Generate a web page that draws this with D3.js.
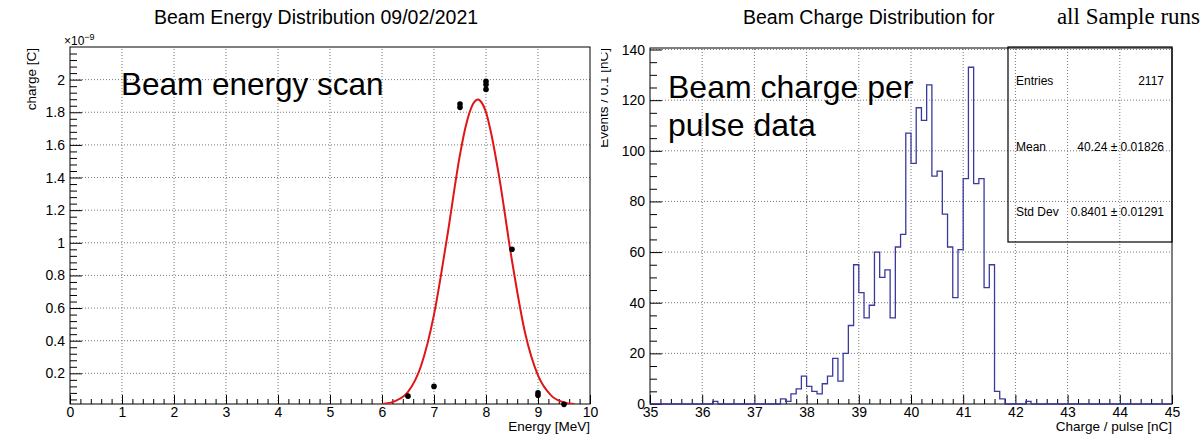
<!DOCTYPE html>
<html>
<script src="https://d3js.org/d3.v7.min.js"></script>

<head>
    <style>
        body {
            margin: 0;
            background-color: #ffffff;
            font-family: "Liberation Sans", Arial, Helvetica, sans-serif;
        }

        svg {
            display: block;
        }
    </style>
</head>

<body>
</body>
<script>
    // ---- left plot: beam energy scan (charge in units of 1e-9 C) ----
    const scanEnergy = [6.5, 7.0, 7.5, 7.5, 8.0, 8.0, 8.0, 8.5, 9.0, 9.0, 9.5];
    const scanCharge = [0.06, 0.12, 1.83, 1.85, 1.94, 1.97, 1.99, 0.96, 0.065, 0.08, 0.01];

    // gaussian fit curve
    const fitEnergy = [6.0, 6.25, 6.5, 6.75, 7.0, 7.25, 7.5, 7.6, 7.75, 7.85, 7.9, 8.0, 8.1, 8.25, 8.5, 8.75, 9.0, 9.25, 9.5, 9.7];
    const fitCharge = [0.012, 0.03, 0.086, 0.245, 0.56, 1.03, 1.54, 1.70, 1.85, 1.878, 1.866, 1.80, 1.67, 1.41, 0.89, 0.45, 0.187, 0.065, 0.022, 0.012];

    const energyTicks = [0, 1, 2, 3, 4, 5, 6, 7, 8, 9, 10];
    const chargeTicks = [0.2, 0.4, 0.6, 0.8, 1, 1.2, 1.4, 1.6, 1.8, 2];

    // ---- right plot: beam charge per pulse, 0.1 nC bins (empty bins left out) ----
    const binLow = [36.2, 37.5, 37.6, 37.7, 37.8, 37.9, 38.0, 38.1, 38.2, 38.3, 38.4, 38.5, 38.6, 38.7, 38.8, 38.9,
        39.0, 39.1, 39.2, 39.3, 39.4, 39.5, 39.6, 39.7, 39.8, 39.9, 40.0, 40.1, 40.2, 40.3, 40.4, 40.5, 40.6, 40.7,
        40.8, 40.9, 41.0, 41.1, 41.2, 41.3, 41.4, 41.5, 41.6, 41.7, 42.2];
    const binCounts = [1, 2, 1, 4, 6, 11, 7, 5, 4, 8, 11, 18, 9, 20, 31, 55,
        44, 34, 39, 60, 50, 53, 34, 62, 67, 107, 95, 117, 112, 126, 90, 92, 75, 62,
        42, 61, 89, 133, 87, 89, 46, 55, 5, 2, 1];

    const pulseTicks = [35, 36, 37, 38, 39, 40, 41, 42, 43, 44, 45];
    const countTicks = [0, 20, 40, 60, 80, 100, 120, 140];

    const statNames = ["Entries", "Mean", "Std Dev"];
    const statValues = ["2117", "40.24 \u00b1 0.01826", "0.8401 \u00b1 0.01291"];

    const width = 1204,
        height = 434;
    const font = "'Liberation Sans', Arial, sans-serif";
    const svg = d3.select("body").append("svg").attr("width", width).attr("height", height);

    function minors(ticks, n) {
        // tick marks between the labelled ones
        const out = [];
        for (let i = 0; i < ticks.length - 1; i++) {
            const step = (ticks[i + 1] - ticks[i]) / n;
            for (let k = 1; k < n; k++) out.push(ticks[i] + k * step);
        }
        return out;
    }

    function drawFrame(g, x, y, xTicks, yTicks, xMinor, yMinor, yFmt) {
        const [xl, xr] = x.range();
        const [yb, yt] = y.range();

        // dotted grid
        g.append("g").selectAll("line")
            .data(xTicks.filter(d => x(d) > xl + 1 && x(d) < xr - 1))
            .join("line")
            .attr("x1", d => x(d)).attr("x2", d => x(d))
            .attr("y1", yb).attr("y2", yt)
            .attr("stroke", "#777").attr("stroke-dasharray", "1,2");
        g.append("g").selectAll("line")
            .data(yTicks.filter(d => y(d) < yb - 1))
            .join("line")
            .attr("x1", xl).attr("x2", xr)
            .attr("y1", d => y(d)).attr("y2", d => y(d))
            .attr("stroke", "#777").attr("stroke-dasharray", "1,2");

        const xa = g.append("g")
            .attr("transform", `translate(0,${yb})`)
            .call(d3.axisBottom(x).tickValues(xTicks).tickSizeInner(-9).tickSizeOuter(0).tickPadding(3));
        xa.attr("font-size", 14).attr("font-family", font);
        xa.select(".domain").remove();

        g.append("g")
            .attr("transform", `translate(0,${yb})`)
            .call(d3.axisBottom(x).tickValues(minors(xTicks, xMinor)).tickSizeInner(-5).tickSizeOuter(0).tickFormat(""))
            .select(".domain").remove();

        const ya = g.append("g")
            .attr("transform", `translate(${xl},0)`)
            .call(d3.axisLeft(y).tickValues(yTicks).tickSizeInner(-12).tickSizeOuter(0).tickPadding(5).tickFormat(yFmt));
        ya.attr("font-size", 14).attr("font-family", font);
        ya.select(".domain").remove();

        const ym = minors(yTicks, yMinor);
        // extend minor ticks above the last label up to the frame
        const st = (yTicks[1] - yTicks[0]) / yMinor;
        for (let v = yTicks[yTicks.length - 1] + st; y(v) > yt; v += st) ym.push(v);
        for (let v = yTicks[0] - st; y(v) < yb; v -= st) ym.push(v);
        g.append("g")
            .attr("transform", `translate(${xl},0)`)
            .call(d3.axisLeft(y).tickValues(ym).tickSizeInner(-7).tickSizeOuter(0).tickFormat(""))
            .select(".domain").remove();

        g.append("rect")
            .attr("x", xl).attr("y", yt)
            .attr("width", xr - xl).attr("height", yb - yt)
            .attr("fill", "none").attr("stroke", "black").attr("stroke-width", 1);
    }

    // ================= left panel =================
    const left = svg.append("g");
    const xE = d3.scaleLinear().domain([0, 10]).range([70, 590]);
    const yQ = d3.scaleLinear().domain([0.012, 2.2]).range([404, 47]);

    drawFrame(left, xE, yQ, energyTicks, chargeTicks, 5, 5, d => d3.format("~g")(d));

    svg.append("clipPath").attr("id", "clipL")
        .append("rect").attr("x", 70).attr("y", 47).attr("width", 520).attr("height", 357);

    left.append("path")
        .datum(fitEnergy.map((e, i) => [e, fitCharge[i]]))
        .attr("clip-path", "url(#clipL)")
        .attr("fill", "none")
        .attr("stroke", "#e01515")
        .attr("stroke-width", 2)
        .attr("d", d3.line().x(d => xE(d[0])).y(d => yQ(d[1])).curve(d3.curveMonotoneX));

    left.append("g").selectAll("circle")
        .data(scanEnergy.map((e, i) => [e, scanCharge[i]]))
        .join("circle")
        .attr("cx", d => xE(d[0]))
        .attr("cy", d => yQ(d[1]))
        .attr("r", 2.8)
        .attr("fill", "black");

    left.append("text")
        .attr("x", 154).attr("y", 24)
        .attr("font-size", 19.5).attr("font-family", font)
        .text("Beam Energy Distribution 09/02/2021");

    const sci = left.append("text")
        .attr("x", 64).attr("y", 45)
        .attr("font-size", 12).attr("font-family", font);
    sci.append("tspan").text("\u00d710");
    sci.append("tspan").attr("dy", -5).attr("font-size", 9).text("\u22129");

    left.append("text")
        .attr("transform", "translate(36,48) rotate(-90)")
        .attr("text-anchor", "end")
        .attr("font-size", 13.5).attr("font-family", font)
        .text("charge [C]");

    left.append("text")
        .attr("x", 590).attr("y", 431)
        .attr("text-anchor", "end")
        .attr("font-size", 13.5).attr("font-family", font)
        .text("Energy [MeV]");

    left.append("text")
        .attr("x", 121).attr("y", 95)
        .attr("font-size", 31.5).attr("font-family", font)
        .text("Beam energy scan");

    // ================= right panel =================
    svg.append("clipPath").attr("id", "clipR")
        .append("rect").attr("x", 601).attr("y", 0).attr("width", 603).attr("height", height);
    const right = svg.append("g").attr("clip-path", "url(#clipR)");

    const xC = d3.scaleLinear().domain([35, 45]).range([650, 1172]);
    const yN = d3.scaleLinear().domain([0, 140.6]).range([404, 48]);

    drawFrame(right, xC, yN, pulseTicks, countTicks, 5, 4, d => d);

    // full list of 0.1 nC bins from 35 to 45
    const lookup = new Map(binLow.map((b, i) => [b.toFixed(1), binCounts[i]]));
    const edges = d3.range(0, 101).map(i => 35 + i * 0.1);
    const hist = edges.map(e => [e, lookup.get(e.toFixed(1)) || 0]);

    right.append("path")
        .datum(hist)
        .attr("fill", "none")
        .attr("stroke", "#3a3a9c")
        .attr("stroke-width", 1.3)
        .attr("d", d3.line().x(d => xC(d[0])).y(d => yN(d[1])).curve(d3.curveStepAfter));

    // stats box
    right.append("rect")
        .attr("x", 1008).attr("y", 47)
        .attr("width", 164).attr("height", 195)
        .attr("fill", "none").attr("stroke", "black").attr("stroke-width", 1.2);
    const rowY = d3.scalePoint().domain(statNames).range([85, 216]);
    right.append("g").selectAll("text")
        .data(statNames)
        .join("text")
        .attr("x", 1016).attr("y", d => rowY(d))
        .attr("font-size", 12).attr("font-family", font)
        .text(d => d);
    right.append("g").selectAll("text")
        .data(statValues)
        .join("text")
        .attr("x", 1164).attr("y", (d, i) => rowY(statNames[i]))
        .attr("text-anchor", "end")
        .attr("font-size", 12).attr("font-family", font)
        .text(d => d);

    right.append("text")
        .attr("transform", "translate(608,48) rotate(-90)")
        .attr("text-anchor", "end")
        .attr("font-size", 13.5).attr("font-family", font)
        .text("Events / 0.1 [nC]");

    right.append("text")
        .attr("x", 1172).attr("y", 431)
        .attr("text-anchor", "end")
        .attr("font-size", 13.5).attr("font-family", font)
        .text("Charge / pulse [nC]");

    const big = right.append("text")
        .attr("font-size", 32).attr("font-family", font);
    big.append("tspan").attr("x", 668).attr("y", 98).text("Beam charge per");
    big.append("tspan").attr("x", 668).attr("y", 136).text("pulse data");

    right.append("text")
        .attr("x", 743).attr("y", 24)
        .attr("font-size", 19.5).attr("font-family", font)
        .text("Beam Charge Distribution for");
    right.append("text")
        .attr("x", 1200).attr("y", 24)
        .attr("text-anchor", "end")
        .attr("font-size", 23).attr("font-family", "'Liberation Serif', 'Times New Roman', serif")
        .text("all Sample runs");
</script>

</html>
